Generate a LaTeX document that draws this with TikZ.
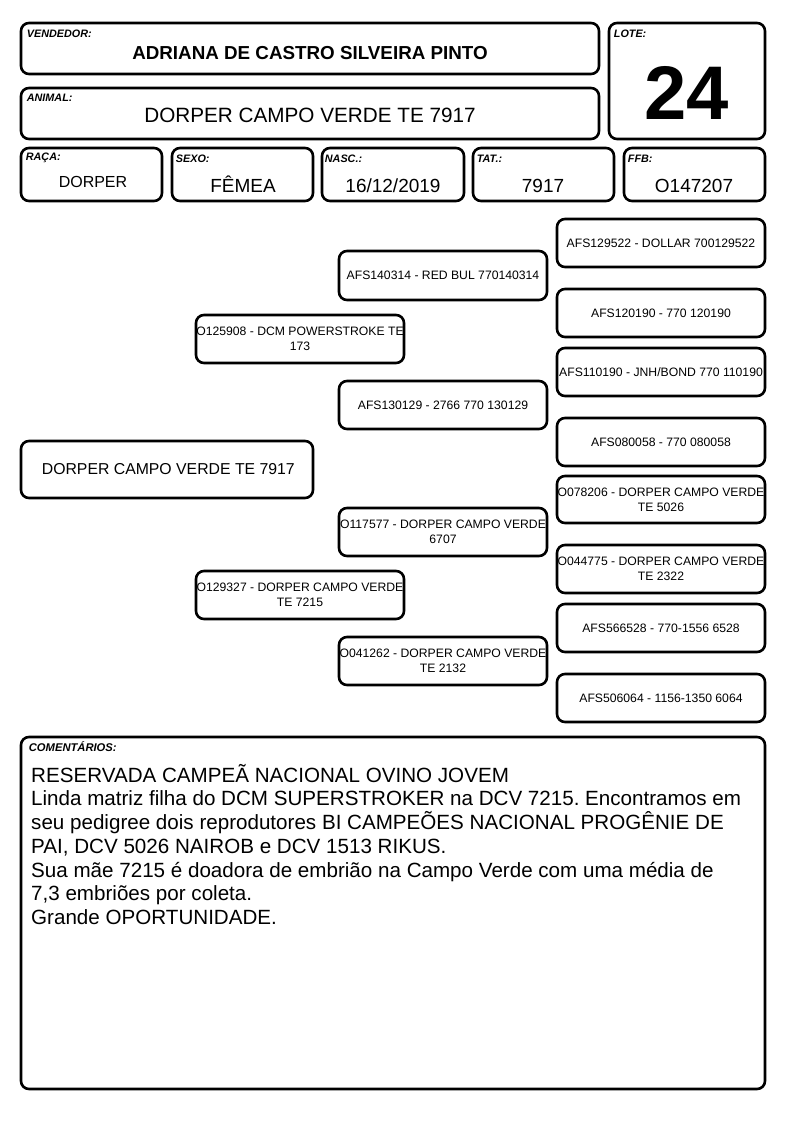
\documentclass[tikz,border=0pt]{standalone}
\usepackage{fontspec}
\setmainfont{Liberation Sans}
\frenchspacing

\begin{document}
\begin{tikzpicture}[x=1pt, y=-1pt,
    box/.style={draw, line width=2.6pt, rounded corners=8pt, inner sep=0pt},
    lbl/.style={anchor=west, inner sep=0pt, font=\fontsize{10.8}{12}\selectfont\bfseries\itshape},
    val/.style={anchor=base, inner sep=0pt, font=\fontsize{19}{22}\selectfont},
    ped/.style={box, minimum width=208pt, minimum height=48pt, align=center,
      font=\fontsize{12.2}{15}\selectfont}]

      \useasboundingbox (0,0) rectangle (794,1123);

      % header
      \node[box, minimum width=578pt, minimum height=51pt] (vend) at (310,48.5) {};
      \node[box, minimum width=156pt, minimum height=116pt] (lote) at (687,81) {};
      \node[box, minimum width=578pt, minimum height=51pt] (anim) at (310,113.5) {};
      \node[lbl] (vendLbl) at ([shift={(7,12)}]vend.north west) {VENDEDOR:};
      \node[lbl] (loteLbl) at ([shift={(6,12)}]lote.north west) {LOTE:};
      \node[lbl] (animLbl) at ([shift={(7,11)}]anim.north west) {ANIMAL:};
      \node[val, font=\fontsize{18.8}{22}\selectfont\bfseries] (vendName) at (310,60) {ADRIANA DE CASTRO SILVEIRA PINTO};
      \node[val, font=\fontsize{76}{86}\selectfont\bfseries] (loteNum) at (687,120) {24};
      \node[val, font=\fontsize{20.7}{24}\selectfont] (animName) at (310,123) {DORPER CAMPO VERDE TE 7917};

      % data row
      \node[box, minimum width=141pt, minimum height=53pt] (raca) at (91.5,174.5) {};
      \node[box, minimum width=141pt, minimum height=53pt] (sexo) at (242.5,174.5) {};
      \node[box, minimum width=142pt, minimum height=53pt] (nasc) at (393,174.5) {};
      \node[box, minimum width=141pt, minimum height=53pt] (tat) at (543.5,174.5) {};
      \node[box, minimum width=141pt, minimum height=53pt] (ffb) at (694.5,174.5) {};
      \node[lbl] (racaLbl) at ([shift={(6,11)}]raca.north west) {RAÇA:};
      \node[lbl] (sexoLbl) at ([shift={(5,12)}]sexo.north west) {SEXO:};
      \node[lbl] (nascLbl) at ([shift={(4,12)}]nasc.north west) {NASC.:};
      \node[lbl] (tatLbl) at ([shift={(5,12)}]tat.north west) {TAT.:};
      \node[lbl] (ffbLbl) at ([shift={(5,12)}]ffb.north west) {FFB:};
      \node[val, font=\fontsize{16}{19}\selectfont] (racaVal) at (93,188) {DORPER};
      \node[val] (sexoVal) at (243,193) {FÊMEA};
      \node[val] (nascVal) at (393,193) {16/12/2019};
      \node[val] (tatVal) at (543,193) {7917};
      \node[val] (ffbVal) at (694,193) {O147207};

      % pedigree
      \node[box, minimum width=292pt, minimum height=57pt, font=\fontsize{15.8}{19}\selectfont] (animal) at (167,469.5) {\,DORPER CAMPO VERDE TE 7917};

      \node[ped] (pai) at (300,339) {O125908 - DCM POWERSTROKE TE\\173};
      \node[ped] (mae) at (300,595) {O129327 - DORPER CAMPO VERDE\\TE 7215};

      \node[ped, minimum height=49pt] (avoPP) at (443,275.5) {AFS140314 - RED BUL 770140314};
      \node[ped] (avoPM) at (443,405) {AFS130129 - 2766 770 130129};
      \node[ped] (avoMP) at (443,532) {O117577 - DORPER CAMPO VERDE\\6707};
      \node[ped] (avoMM) at (443,661) {O041262 - DORPER CAMPO VERDE\\TE 2132};

      \node[ped] (bisA) at (661,243) {AFS129522 - DOLLAR 700129522};
      \node[ped] (bisB) at (661,313) {AFS120190 - 770 120190};
      \node[ped] (bisC) at (661,372) {AFS110190 - JNH/BOND 770 110190};
      \node[ped] (bisD) at (661,442) {AFS080058 - 770 080058};
      \node[ped, minimum height=47pt] (bisE) at (661,499.5) {O078206 - DORPER CAMPO VERDE\\TE 5026};
      \node[ped] (bisF) at (661,569) {O044775 - DORPER CAMPO VERDE\\TE 2322};
      \node[ped] (bisG) at (661,628) {AFS566528 - 770-1556 6528};
      \node[ped] (bisH) at (661,698) {AFS506064 - 1156-1350 6064};

      % comentarios
      \node[box, minimum width=744pt, minimum height=352pt] (coment) at (393,913) {};
      \node[lbl, font=\fontsize{11.2}{13}\selectfont\bfseries\itshape] (comentLbl) at ([shift={(9,11)}]coment.north west) {COMENTÁRIOS:};
      \node[anchor=north west, inner sep=0pt, align=left, font=\fontsize{20.6}{23.7}\selectfont]
        (comentTxt) at (31,764) {RESERVADA CAMPEÃ NACIONAL OVINO JOVEM\\
        Linda matriz filha do DCM SUPERSTROKER na DCV 7215. Encontramos em\\
        seu pedigree dois reprodutores BI CAMPEÕES NACIONAL PROGÊNIE DE\\
        PAI, DCV 5026 NAIROB e DCV 1513 RIKUS.\\
        Sua mãe 7215 é doadora de embrião na Campo Verde com uma média de\\
        7,3 embriões por coleta.\\
        Grande OPORTUNIDADE.};
\end{tikzpicture}
\end{document}
